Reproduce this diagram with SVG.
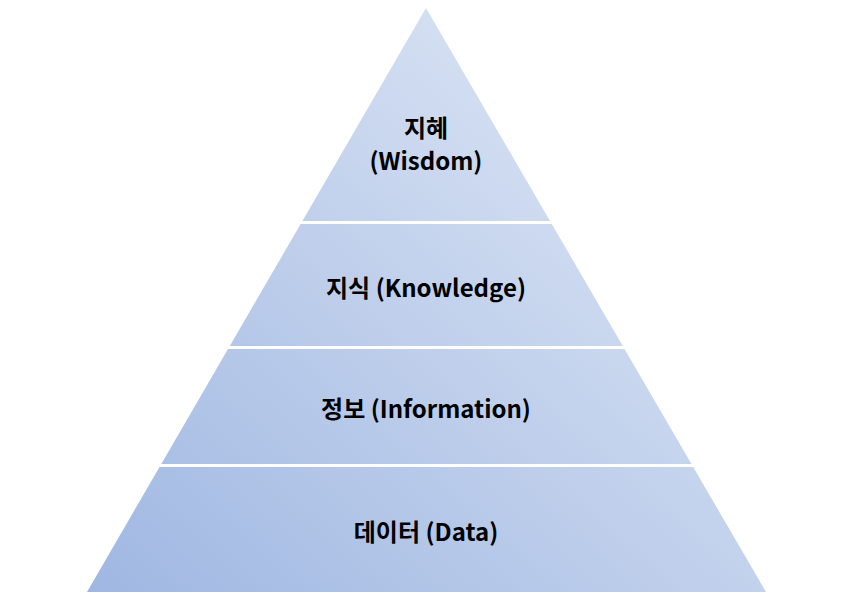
<svg xmlns="http://www.w3.org/2000/svg" width="852" height="604" viewBox="0 0 852 604">
<style>
.t{font-family:"Noto Sans CJK KR","Noto Sans",sans-serif;font-weight:bold;font-size:24px;fill:#000;text-anchor:middle}
</style>
<defs>
<linearGradient id="g" gradientUnits="userSpaceOnUse" x1="87" y1="592" x2="600" y2="10">
<stop offset="0" stop-color="#9fb7e2"/>
<stop offset="1" stop-color="#dce5f4"/>
</linearGradient>
</defs>
<rect width="852" height="604" fill="#fff"/>
<g id="wisdom"><polygon points="426,8 550,221 302.4,221" fill="url(#g)"/><text class="t" x="426" y="137">지혜</text><text class="t" x="426" y="170">(Wisdom)</text></g>
<g id="knowledge"><polygon points="300.6,224 551.8,224 622.8,346 229.8,346" fill="url(#g)"/><text class="t" x="426" y="297">지식 (Knowledge)</text></g>
<g id="information"><polygon points="228,349 624.5,349 691.5,464 161.3,464" fill="url(#g)"/><text class="t" x="426" y="418">정보 (Information)</text></g>
<g id="data"><polygon points="159.5,467 693.2,467 766,592 87,592" fill="url(#g)"/><text class="t" x="426" y="541">데이터 (Data)</text></g>
<g id="connectors"/>
</svg>
